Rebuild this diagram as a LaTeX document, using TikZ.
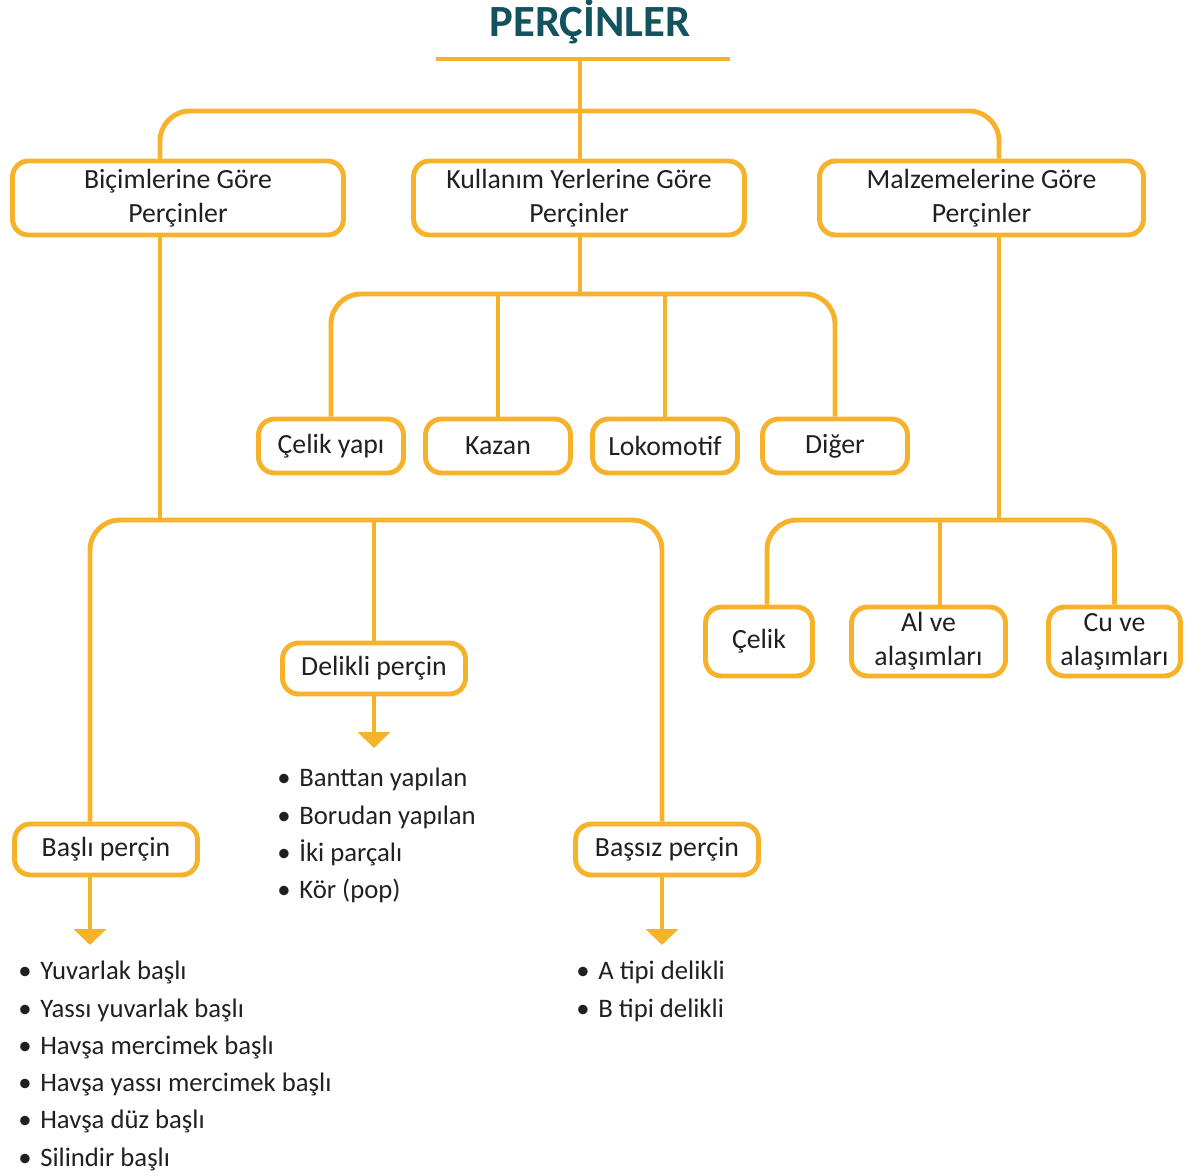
\documentclass[tikz,border=0pt]{standalone}
\usepackage{fontspec}
\setmainfont{Carlito}
\usetikzlibrary{arrows.meta, positioning}
\usepackage{xcolor}
\definecolor{rivetorange}{HTML}{F5B22A}
\definecolor{rivetteal}{HTML}{12535E}
\definecolor{inkgray}{HTML}{231F20}
\newcommand{\itm}{\makebox[0.44cm][l]{\textbullet}}

\begin{document}
\begin{tikzpicture}[x=0.02cm, y=-0.02cm, >=Stealth,
  box/.style={rectangle, rounded corners=0.32cm, draw=rivetorange, line width=2.8pt, fill=white, minimum height=#1, align=center, text=inkgray, font=\fontsize{15.8}{19.5}\selectfont, inner sep=0pt},
  box/.default=1.08cm,
  link/.style={draw=rivetorange, line width=2.8pt, rounded corners=0.6cm},
  drop/.style={link, -{Triangle[width=0.64cm, length=0.32cm]}},
  items/.style={anchor=north west, align=left, text=inkgray, inner sep=0pt, font=\fontsize{15.2}{21.2}\selectfont}]
  \useasboundingbox (0,0) rectangle (1190,1176);

  % title
  \node[font=\fontsize{25.4}{30}\selectfont\bfseries, text=rivetteal] (title) at (590,22) {PERÇİNLER};
  \coordinate (ruleL) at (436,59);
  \coordinate (ruleR) at (730,59);
  \coordinate (hubA) at (580,111);
  \coordinate (hubB) at (580,294);
  \coordinate (hubC) at (160,520);
  \coordinate (hubD) at (999,520);
  \coordinate (tipD) at (374,748);
  \coordinate (tipL) at (90,945);
  \coordinate (tipR) at (662,945);

  % first level
  \node[box=1.48cm, minimum width=6.62cm] (bic) at (178,198) {Biçimlerine Göre\\Perçinler};
  \node[box=1.48cm, minimum width=6.62cm] (kul) at (579,198) {Kullanım Yerlerine Göre\\Perçinler};
  \node[box=1.48cm, minimum width=6.48cm] (mal) at (981.5,198) {Malzemelerine Göre\\Perçinler};

  % kullanim yerleri
  \node[box, minimum width=2.9cm] (celikyapi) at (331,446) {Çelik yapı};
  \node[box, minimum width=2.9cm] (kazan) at (498,446) {Kazan};
  \node[box, minimum width=2.9cm] (lokomotif) at (665,446) {Lokomotif};
  \node[box, minimum width=2.9cm] (diger) at (835,446) {Diğer};

  % bicimler
  \node[box=1.02cm, minimum width=3.66cm] (delikli) at (374,668.5) {Delikli perçin};
  \node[box=1.02cm, minimum width=3.66cm] (basli) at (106,849.5) {Başlı perçin};
  \node[box=1.02cm, minimum width=3.66cm] (bassiz) at (667,849.5) {Başsız perçin};

  % malzemeler
  \node[box=1.38cm, minimum width=2.14cm] (celik) at (759,641.5) {Çelik};
  \node[box=1.38cm, minimum width=3.08cm] (al) at (928.5,641.5) {Al ve\\alaşımları};
  \node[box=1.38cm, minimum width=2.64cm] (cu) at (1114.5,641.5) {Cu ve\\alaşımları};

  % connectors
  \draw[link, rounded corners=0pt] (ruleL) -- (ruleR);
  \draw[link] (hubA |- ruleL) -- (kul.north -| hubA);
  \draw[link] (bic.north -| hubC) |- (hubA) -| (mal.north -| hubD);

  \draw[link] (kul.south -| hubB) -- (hubB);
  \draw[link] (celikyapi.north) |- (hubB) -| (diger.north);
  \draw[link] (kazan.north) -- (kazan.north |- hubB);
  \draw[link] (lokomotif.north) -- (lokomotif.north |- hubB);

  \draw[link] (bic.south -| hubC) -- (hubC);
  \draw[link] (basli.north -| tipL) |- (hubC) -| (bassiz.north -| tipR);
  \draw[link] (delikli.north) -- (delikli.north |- hubC);
  \draw[drop] (delikli.south) -- (tipD);
  \draw[drop] (basli.south -| tipL) -- (tipL);
  \draw[drop] (bassiz.south -| tipR) -- (tipR);

  \draw[link] (mal.south -| hubD) -- (hubD);
  \draw[link] ([xshift=0.16cm]celik.north) |- (hubD) -| (cu.north);
  \draw[link] ([xshift=0.23cm]al.north) -- ([xshift=0.23cm]al.north |- hubD);

  % lists
  \node[items] (deliste) at (277,768) {\itm Banttan yapılan\\\itm Borudan yapılan\\\itm İki parçalı\\\itm Kör (pop)};
  \node[items] (basliste) at (18,961) {\itm Yuvarlak başlı\\\itm Yassı yuvarlak başlı\\\itm Havşa mercimek başlı\\\itm Havşa yassı mercimek başlı\\\itm Havşa düz başlı\\\itm Silindir başlı};
  \node[items] (bassizliste) at (576,961) {\itm A tipi delikli\\\itm B tipi delikli};
\end{tikzpicture}
\end{document}
